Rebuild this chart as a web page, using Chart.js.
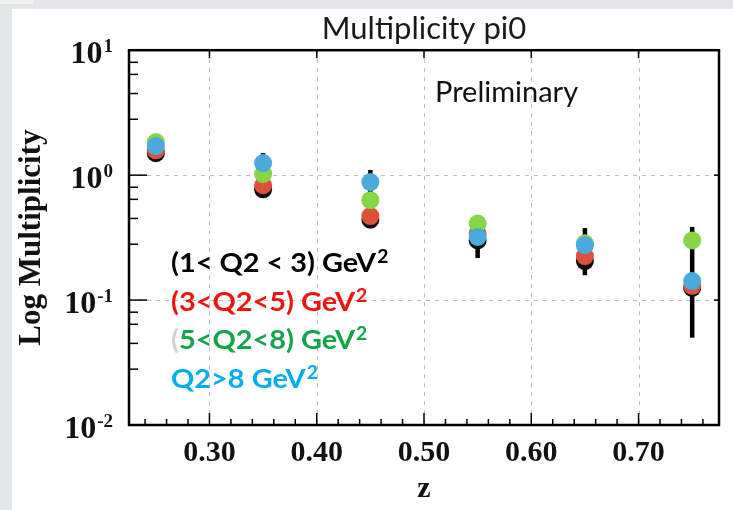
<!DOCTYPE html>
<html>
<head>
<meta charset="utf-8">
<script src="https://cdn.jsdelivr.net/npm/chart.js@4.4.1/dist/chart.umd.min.js"></script>
<style>
html,body{margin:0;padding:0;background:#fff;}
#wrap{width:733px;height:510px;position:relative;}
</style>
</head>
<body>
<div id="wrap"><canvas id="c" width="733" height="510"></canvas></div>
<script>
// ---- data ----
const zValues = [0.25, 0.35, 0.45, 0.55, 0.65, 0.75];
const seriesLabels = ["(1< Q2 < 3) GeV²", "(3<Q2<5) GeV²", "(5<Q2<8) GeV²", "Q2>8 GeV²"];
const multQ2_1_3 = [1.50, 0.77, 0.44, 0.30, 0.205, 0.125];
const multQ2_3_5 = [1.58, 0.83, 0.47, 0.34, 0.225, 0.13];
const multQ2_5_8 = [1.84, 1.02, 0.63, 0.41, 0.285, 0.30];
const multQ2_gt8 = [1.71, 1.25, 0.88, 0.32, 0.275, 0.142];
const errLow  = [1.40, 0.69, 0.38, 0.217, 0.158, 0.05];
const errHigh = [1.62, 1.50, 1.10, 0.436, 0.377, 0.385];
const xTickValues = [0.30, 0.40, 0.50, 0.60, 0.70];
const xTickLabels = ["0.30", "0.40", "0.50", "0.60", "0.70"];
const yTickValues = [0.01, 0.1, 1, 10];
const yTickBase = ["10", "10", "10", "10"];
const yTickExp = ["-2", "-1", "0", "1"];
const yMinorMantissa = [2.8, 4.5, 6.4, 8];
const xMinorStep = 0.02;
const chartTitle = "Multiplicity pi0";
const watermark = "Preliminary";

// ---- styles ----
const markerColors = ["#0d0d0d", "#dc503c", "#86d646", "#4aaade"];
const textColors = ["#000000", "#f0140f", "#12a54a", "#00aeef"];
const drawOrder = [3, 2, 1, 0];
const seriesValues = [multQ2_1_3, multQ2_3_5, multQ2_5_8, multQ2_gt8];

const datasets = seriesValues.map((vals, s) => ({
  label: seriesLabels[s],
  data: zValues.map((z, i) => ({x: z, y: vals[i]})),
  backgroundColor: markerColors[s],
  borderWidth: 0,
  pointRadius: 9,
  pointHoverRadius: 9,
  showLine: false,
  order: drawOrder[s]
}));

const SERIF = '"Liberation Serif", "Times New Roman", serif';
const SANS = 'Lato, "Open Sans", sans-serif';

const decor = {
  id: 'decor',
  beforeDraw(chart) {
    const ctx = chart.ctx;
    ctx.save();
    ctx.fillStyle = '#e3e7e8';
    ctx.fillRect(0, 0, chart.width, chart.height);
    ctx.fillStyle = '#f2f2f2';
    ctx.fillRect(0, 0, 33, 4);
    ctx.fillStyle = '#ffffff';
    ctx.fillRect(12, 9, chart.width - 12, chart.height - 9);
    ctx.restore();
  },
  beforeDatasetsDraw(chart) {
    const ctx = chart.ctx, a = chart.chartArea;
    const xs = chart.scales.x, ys = chart.scales.y;
    ctx.save();
    // dashed grid
    ctx.strokeStyle = '#bcbcbc';
    ctx.lineWidth = 1;
    ctx.setLineDash([4, 5]);
    xTickValues.forEach(v => {
      const px = Math.round(xs.getPixelForValue(v)) + 0.5;
      ctx.beginPath(); ctx.moveTo(px, a.top); ctx.lineTo(px, a.bottom); ctx.stroke();
    });
    yTickValues.forEach(v => {
      const py = Math.round(ys.getPixelForValue(v)) + 0.5;
      ctx.beginPath(); ctx.moveTo(a.left, py); ctx.lineTo(a.right, py); ctx.stroke();
    });
    ctx.setLineDash([]);
    // error bars
    ctx.strokeStyle = '#000';
    ctx.lineWidth = 4.5;
    zValues.forEach((z, i) => {
      const px = xs.getPixelForValue(z);
      ctx.beginPath();
      ctx.moveTo(px, ys.getPixelForValue(errLow[i]));
      ctx.lineTo(px, ys.getPixelForValue(errHigh[i]));
      ctx.stroke();
    });
    ctx.restore();
  },
  afterDraw(chart) {
    const ctx = chart.ctx, a = chart.chartArea;
    const xs = chart.scales.x, ys = chart.scales.y;
    ctx.save();
    ctx.strokeStyle = '#000';
    // ticks
    ctx.lineWidth = 1.5;
    const xmin = xs.min, xmax = xs.max;
    for (let k = Math.ceil(xmin / xMinorStep - 1e-6); k * xMinorStep <= xmax + 1e-9; k++) {
      const v = k * xMinorStep;
      const isMajor = xTickValues.some(t => Math.abs(t - v) < 1e-6);
      const px = xs.getPixelForValue(v);
      ctx.beginPath(); ctx.moveTo(px, a.bottom); ctx.lineTo(px, a.bottom - (isMajor ? 12 : 6)); ctx.stroke();
      if (isMajor) { ctx.beginPath(); ctx.moveTo(px, a.top); ctx.lineTo(px, a.top + 8); ctx.stroke(); }
    }
    yTickValues.forEach((v, idx) => {
      const py = ys.getPixelForValue(v);
      ctx.beginPath(); ctx.moveTo(a.left, py); ctx.lineTo(a.left + 18, py); ctx.stroke();
      ctx.beginPath(); ctx.moveTo(a.right, py); ctx.lineTo(a.right - 5, py); ctx.stroke();
      if (idx < yTickValues.length - 1) {
        yMinorMantissa.forEach(m => {
          const pm = ys.getPixelForValue(v * m);
          ctx.beginPath(); ctx.moveTo(a.left, pm); ctx.lineTo(a.left + 9, pm); ctx.stroke();
        });
      }
    });
    // frame
    ctx.lineWidth = 2.5;
    ctx.strokeRect(a.left, a.top, a.right - a.left, a.bottom - a.top);
    // y tick labels with superscripts
    ctx.fillStyle = '#111';
    ctx.textBaseline = 'alphabetic';
    ctx.textAlign = 'right';
    yTickValues.forEach((v, i) => {
      const py = ys.getPixelForValue(v);
      const rightEdge = a.left - 16;
      ctx.font = 'bold 19px ' + SERIF;
      const expText = yTickExp[i];
      const ew = ctx.measureText(expText).width;
      ctx.fillText(expText, rightEdge, py + 2);
      ctx.font = 'bold 32px ' + SERIF;
      ctx.fillText(yTickBase[i], rightEdge - ew - 1, py + 13);
    });
    // watermark
    ctx.textAlign = 'left';
    ctx.fillStyle = '#111';
    ctx.font = '29px ' + SANS;
    ctx.fillText(watermark, 435, 102);
    // legend text (slightly widened like the original), superscript drawn raised
    const mainFont = 'bold 27px ' + SANS;
    const supFont = 'bold 18px ' + SANS;
    const baseY = 272, step = 38.5, sx = 1.07;
    seriesLabels.forEach((lab, s) => {
      const y = baseY + s * step;
      ctx.save();
      ctx.translate(171, y);
      ctx.scale(sx, 1);
      ctx.font = mainFont;
      let x = 0;
      let txt = lab;
      let sup = '';
      if (txt.endsWith('²')) { txt = txt.slice(0, -1); sup = '2'; }
      if (s === 2) {
        ctx.fillStyle = '#d2d2d2';
        ctx.fillText(txt[0], x, 0);
        x += ctx.measureText(txt[0]).width;
        txt = txt.slice(1);
      }
      ctx.fillStyle = textColors[s];
      ctx.fillText(txt, x, 0);
      x += ctx.measureText(txt).width + 1;
      if (sup) {
        ctx.font = supFont;
        ctx.fillText(sup, x, -9);
      }
      ctx.restore();
    });
    ctx.restore();
  }
};

new Chart(document.getElementById('c'), {
  type: 'scatter',
  data: { datasets },
  options: {
    responsive: false,
    animation: false,
    events: [],
    layout: { padding: { left: 0, right: 14, top: 0, bottom: 0 } },
    plugins: {
      legend: { display: false },
      tooltip: { enabled: false },
      title: {
        display: true,
        fullSize: false,
        text: chartTitle,
        color: '#1a1a1a',
        font: { family: SANS, size: 31, weight: 'normal', lineHeight: 1.2 },
        padding: { top: 10, bottom: 3 }
      }
    },
    scales: {
      x: {
        type: 'linear',
        min: 0.225,
        max: 0.775,
        afterFit(s) { s.height = 85; },
        afterBuildTicks(s) { s.ticks = xTickValues.map(v => ({ value: v })); },
        grid: { display: false },
        border: { display: false },
        ticks: {
          autoSkip: false,
          maxRotation: 0,
          padding: 2,
          color: '#111',
          font: { family: SERIF, size: 30, weight: 'bold', lineHeight: 1.2 },
          callback: (v, i) => xTickLabels[i]
        },
        title: {
          display: true,
          text: 'z',
          color: '#111',
          font: { family: SERIF, size: 30, weight: 'bold', lineHeight: 1.2 },
          padding: { top: 0, bottom: 3 }
        }
      },
      y: {
        type: 'logarithmic',
        min: 0.01,
        max: 10,
        afterFit(s) { s.width = 129; },
        afterBuildTicks(s) { s.ticks = yTickValues.map(v => ({ value: v })); },
        grid: { display: false },
        border: { display: false },
        ticks: { display: false },
        title: {
          display: true,
          text: 'Log Multiplicity',
          color: '#111',
          font: { family: SERIF, size: 31, weight: 'bold', lineHeight: 1.2 },
          padding: { top: 13, bottom: 0 }
        }
      }
    }
  },
  plugins: [decor]
});
</script>
</body>
</html>
